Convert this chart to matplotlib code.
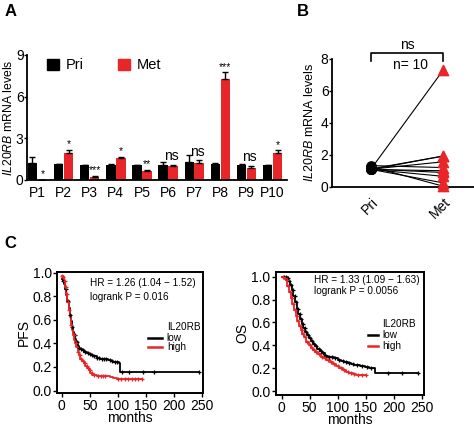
import matplotlib
matplotlib.use("Agg")
import matplotlib.pyplot as plt
from matplotlib.patches import Patch
import numpy as np

plt.rcParams['font.family'] = ['Liberation Sans', 'DejaVu Sans']
plt.rcParams['mathtext.fontset'] = 'custom'
plt.rcParams['mathtext.rm'] = 'Liberation Sans'
plt.rcParams['mathtext.it'] = 'Liberation Sans:italic'

# ---------------- data ----------------
patients = ['P1', 'P2', 'P3', 'P4', 'P5', 'P6', 'P7', 'P8', 'P9', 'P10']
pri_vals = [1.25, 1.12, 1.08, 1.10, 1.08, 1.08, 1.32, 1.15, 1.10, 1.08]
pri_err = [0.43, 0.03, 0.03, 0.03, 0.03, 0.24, 0.50, 0.05, 0.03, 0.02]
met_vals = [0.03, 1.92, 0.24, 1.56, 0.65, 1.00, 1.20, 7.30, 0.89, 1.92]
met_err = [0.00, 0.24, 0.05, 0.10, 0.07, 0.10, 0.24, 0.45, 0.14, 0.22]
signif = ['*', '*', '***', '*', '**', 'ns', 'ns', '***', 'ns', '*']

groups_b = ['Pri', 'Met']

# Kaplan-Meier knots (months, survival)
pfs_low_t = [0, 2, 4, 6, 8, 10, 12, 14, 16, 18, 20, 22, 24, 26, 28, 30, 33, 36, 40, 44, 48, 52, 56, 62, 68, 76, 82, 88, 92, 96, 101, 104, 244]
pfs_low_s = [0.95, 0.93, 0.90, 0.86, 0.81, 0.76, 0.70, 0.64, 0.59, 0.54, 0.50, 0.47, 0.44, 0.41, 0.38, 0.36, 0.35, 0.34, 0.33, 0.32, 0.31, 0.30, 0.29, 0.28, 0.27, 0.27, 0.26, 0.255, 0.245, 0.24, 0.23, 0.155, 0.155]
pfs_low_c = [3, 7, 11, 15, 19, 23, 27, 31, 35, 38, 42, 46, 50, 54, 58, 63, 66, 72, 75, 79, 85, 90, 95, 99, 108, 120, 145, 165, 244]
pfs_high_t = [0, 2, 4, 6, 8, 10, 12, 14, 16, 18, 20, 22, 24, 26, 28, 30, 33, 36, 39, 42, 45, 48, 51, 54, 62, 80, 86, 92, 98, 143]
pfs_high_s = [0.97, 0.96, 0.93, 0.88, 0.82, 0.75, 0.68, 0.62, 0.56, 0.51, 0.47, 0.43, 0.40, 0.37, 0.33, 0.30, 0.27, 0.25, 0.23, 0.21, 0.19, 0.175, 0.15, 0.13, 0.125, 0.12, 0.115, 0.105, 0.10, 0.10]
pfs_high_c = [1, 3, 5, 7, 9, 11, 13, 17, 21, 25, 29, 32, 35, 38, 41, 44, 47, 50, 53, 58, 65, 70, 74, 77, 100, 105, 112, 118, 125, 130, 136, 143]

os_low_t = [0, 5, 9, 12, 15, 18, 21, 24, 27, 30, 33, 36, 39, 42, 45, 48, 52, 56, 60, 64, 68, 72, 77, 82, 88, 94, 100, 106, 112, 118, 124, 130, 140, 148, 156, 165, 167, 243]
os_low_s = [1.0, 0.995, 0.985, 0.96, 0.93, 0.88, 0.83, 0.78, 0.72, 0.67, 0.63, 0.59, 0.55, 0.52, 0.49, 0.46, 0.44, 0.41, 0.39, 0.37, 0.35, 0.33, 0.31, 0.30, 0.295, 0.285, 0.275, 0.265, 0.255, 0.245, 0.235, 0.23, 0.22, 0.21, 0.205, 0.20, 0.155, 0.155]
os_low_c = [4, 8, 11, 14, 17, 20, 23, 26, 29, 32, 35, 38, 41, 44, 47, 50, 54, 58, 62, 66, 70, 74, 79, 84, 90, 96, 103, 109, 115, 121, 127, 135, 144, 152, 160, 190, 215, 243]
os_high_t = [0, 4, 7, 10, 13, 16, 19, 22, 25, 28, 31, 34, 37, 40, 44, 48, 52, 56, 60, 65, 70, 75, 80, 86, 92, 97, 103, 109, 115, 121, 127, 133, 151]
os_high_s = [1.0, 0.99, 0.97, 0.92, 0.87, 0.81, 0.76, 0.71, 0.66, 0.61, 0.57, 0.53, 0.50, 0.47, 0.43, 0.40, 0.38, 0.36, 0.34, 0.32, 0.30, 0.285, 0.27, 0.25, 0.235, 0.22, 0.20, 0.185, 0.17, 0.16, 0.15, 0.14, 0.14]
os_high_c = [2, 6, 9, 12, 15, 18, 21, 24, 27, 30, 33, 36, 39, 42, 46, 50, 54, 58, 62, 67, 72, 77, 82, 88, 94, 100, 106, 112, 118, 124, 130, 137, 143, 150]

RED = '#e8262a'

fig = plt.figure(figsize=(4.74, 4.28), dpi=100)
W, H = 474, 428

def ax_px(l, t, r, b):
    return fig.add_axes([l / W, 1 - b / H, (r - l) / W, (b - t) / H])

# ---------------- Panel A ----------------
axA = ax_px(27, 55, 287, 180)
x = np.arange(1, len(patients) + 1)
bw = 0.36
axA.bar(x - 0.19, pri_vals, bw, color='black',
        yerr=[np.zeros(len(x)), pri_err], error_kw=dict(ecolor='black', capsize=2.5, lw=1.0, capthick=1.0))
axA.bar(x + 0.19, met_vals, bw, color=RED,
        yerr=[np.zeros(len(x)), met_err], error_kw=dict(ecolor='black', capsize=2.5, lw=1.0, capthick=1.0))
for xi, v, e, s in zip(x, met_vals, met_err, signif):
    if s == 'ns':
        axA.text(xi + 0.12, v + e + 0.1, s, ha='center', va='bottom', fontsize=10)
    else:
        axA.text(xi + 0.19, v + e + 0.05, s, ha='center', va='bottom', fontsize=7.5)
axA.set_xlim(0.6, 10.55)
axA.set_ylim(0, 9)
axA.set_yticks([0, 3, 6, 9])
axA.set_xticks(x)
axA.set_xticklabels(patients, fontsize=10)
axA.tick_params(axis='x', length=0, pad=4)
axA.tick_params(axis='y', labelsize=10, length=2, width=1, pad=0.5)
for sp in ['top', 'right']:
    axA.spines[sp].set_visible(False)
for sp in ['left', 'bottom']:
    axA.spines[sp].set_linewidth(1.3)
axA.set_ylabel(r'$\mathit{IL20RB}$ mRNA levels', fontsize=8.8)
axA.yaxis.set_label_coords(-0.045, 0.5)
axA.legend(handles=[Patch(color='black', label='Pri'), Patch(color=RED, label='Met')],
           ncol=2, frameon=False, fontsize=10.5, handlelength=0.8, handleheight=0.8,
           handletextpad=0.45, columnspacing=2.4,
           loc='upper left', bbox_to_anchor=(0.055, 1.02), borderaxespad=0)

# ---------------- Panel B ----------------
axB = ax_px(332, 59, 474, 186.7)
for p, m in zip(pri_vals, met_vals):
    axB.plot([0, 1], [p, m], color='black', lw=0.8, zorder=2)
axB.scatter(np.zeros(len(pri_vals)), pri_vals, s=45, color='black', marker='o', zorder=3)
axB.scatter(np.ones(len(met_vals)), met_vals, s=55, color=RED, marker='^', zorder=3, clip_on=False)
axB.set_xlim(-0.55, 1.43)
axB.set_ylim(0, 8)
axB.set_yticks([0, 2, 4, 6, 8])
axB.set_xticks([0, 1])
axB.set_xticklabels(groups_b, rotation=45, fontsize=10, ha='right', rotation_mode='anchor')
axB.tick_params(axis='x', length=0, pad=6)
axB.tick_params(axis='y', labelsize=10, length=2, width=1, pad=0.5)
for sp in ['top', 'right']:
    axB.spines[sp].set_visible(False)
for sp in ['left', 'bottom']:
    axB.spines[sp].set_linewidth(1.3)
axB.set_ylabel(r'$\mathit{IL20RB}$ mRNA levels', fontsize=9)
axB.yaxis.set_label_coords(-0.115, 0.5)
axB.plot([0, 0, 1, 1], [7.85, 8.38, 8.38, 7.85], color='black', lw=1.2, clip_on=False)
axB.text(0.5, 8.45, 'ns', ha='center', va='bottom', fontsize=10)
axB.text(0.54, 7.62, 'n= 10', ha='center', va='center', fontsize=10)

# ---------------- Panel C ----------------
def km(ax, lt, ls, lc, ht, hs, hc, hr, lr, ylab, xlim, ylim, txt_pos, leg_pos):
    ax.step(lt, ls, where='post', color='black', lw=1.3)
    ax.step(ht, hs, where='post', color=RED, lw=1.3)
    lc_s = [ls[np.searchsorted(lt, c, side='right') - 1] for c in lc]
    hc_s = [hs[np.searchsorted(ht, c, side='right') - 1] for c in hc]
    ax.plot(lc, lc_s, '+', color='black', ms=3.5, mew=0.9)
    ax.plot(hc, hc_s, '+', color=RED, ms=3.5, mew=0.9)
    ax.set_xlim(*xlim)
    ax.set_ylim(*ylim)
    ax.set_xticks([0, 50, 100, 150, 200, 250])
    ax.set_yticks([0.0, 0.2, 0.4, 0.6, 0.8, 1.0])
    ax.set_yticklabels(['0.0', '0.2', '0.4', '0.6', '0.8', '1.0'])
    ax.tick_params(labelsize=10, length=3, width=1, pad=1)
    for sp in ax.spines.values():
        sp.set_linewidth(1.4)
    ax.set_xlabel('months', fontsize=10, labelpad=-1)
    ax.set_ylabel(ylab, fontsize=10, labelpad=1)
    tx, ty1, ty2 = txt_pos
    ax.text(tx, ty1, hr, transform=ax.transAxes, fontsize=7.2, va='center', ha='left')
    ax.text(tx, ty2, lr, transform=ax.transAxes, fontsize=7.2, va='center', ha='left')
    lx0, lx1, ty_t, ty_l, ty_h = leg_pos
    ax.text(lx1 + 0.03, ty_t, 'IL20RB', transform=ax.transAxes, fontsize=7.2, va='center', ha='left')
    ax.plot([lx0, lx1], [ty_l, ty_l], color='black', lw=1.8, transform=ax.transAxes)
    ax.plot([lx0, lx1], [ty_h, ty_h], color=RED, lw=1.8, transform=ax.transAxes)
    ax.text(lx1 + 0.03, ty_l, 'low', transform=ax.transAxes, fontsize=7.2, va='center', ha='left')
    ax.text(lx1 + 0.03, ty_h, 'high', transform=ax.transAxes, fontsize=7.2, va='center', ha='left')

axC1 = ax_px(57.3, 271.7, 203.3, 393.3)
km(axC1, pfs_low_t, pfs_low_s, pfs_low_c, pfs_high_t, pfs_high_s, pfs_high_c,
   'HR = 1.26 (1.04 \u2212 1.52)', 'logrank P = 0.016', 'PFS',
   (-8, 252), (-0.023, 1.008), (0.224, 0.907, 0.794), (0.62, 0.72, 0.548, 0.455, 0.381))

axC2 = ax_px(276, 271.7, 424, 395)
km(axC2, os_low_t, os_low_s, os_low_c, os_high_t, os_high_s, os_high_c,
   'HR = 1.33 (1.09 \u2212 1.63)', 'logrank P = 0.0056', 'OS',
   (-10, 254), (-0.035, 1.044), (0.257, 0.933, 0.843), (0.62, 0.69, 0.573, 0.484, 0.40))

# panel labels
fig.text(5 / W, 1 - 12 / H, 'A', fontsize=12, fontweight='bold', va='center', ha='left')
fig.text(297 / W, 1 - 12 / H, 'B', fontsize=12, fontweight='bold', va='center', ha='left')
fig.text(4 / W, 1 - 243 / H, 'C', fontsize=12, fontweight='bold', va='center', ha='left')

fig.savefig('out.png', dpi=100)
